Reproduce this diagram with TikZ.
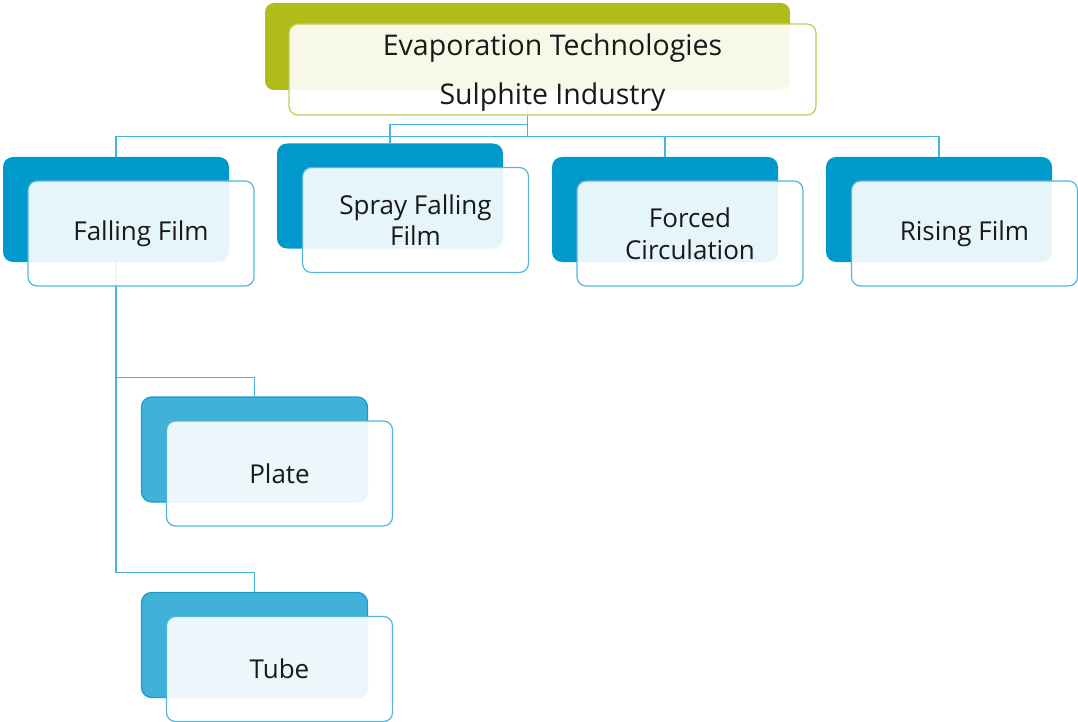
\documentclass[tikz,border=0pt]{standalone}
\usepackage{fontspec}
\setmainfont{Open Sans}
\usetikzlibrary{backgrounds}
\definecolor{olive}{RGB}{176,188,24}
\definecolor{olivebd}{RGB}{196,203,84}
\definecolor{mblue}{RGB}{0,153,204}
\definecolor{lblue}{RGB}{64,178,218}
\definecolor{lbluebd}{RGB}{24,156,204}
\definecolor{frontbd}{RGB}{84,182,220}
\definecolor{conn}{RGB}{70,180,222}
\tikzset{
  backbox/.style={rounded corners=10pt, minimum width=226pt, minimum height=105pt, inner sep=0pt, fill=mblue, draw=none},
  backboxb/.style={backbox, fill=lblue, draw=lbluebd, line width=1.2pt},
  frontbox/.style={rounded corners=9pt, minimum width=226pt, minimum height=105pt, inner sep=0pt, fill=white, fill opacity=0.9, text opacity=1, draw=frontbd, line width=1.2pt, align=center, font=\fontsize{26}{31.5}\selectfont, text=black!90},
  connline/.style={draw=conn, line width=1.2pt},
}
\begin{document}
\begin{tikzpicture}[x=1pt,y=-1pt]
\useasboundingbox (0,0) rectangle (1078,722);
% top
\node[rounded corners=9pt, minimum width=525pt, minimum height=87pt, inner sep=0pt, fill=olive] (tb) at (527.5,46.5) {};
\node[frontbox, draw=olivebd, minimum width=527pt, minimum height=91pt, font=\fontsize{28.5}{34}\selectfont] (tf) at (552.5,69.5) {\rule{0pt}{28pt}Evaporation Technologies\\[15pt]Sulphite Industry};
% level 1
\node[backbox] (ffb) at (116,209.5) {};
\node[frontbox] (fff) at (141,233.5) {Falling Film};
\node[backbox] (sfb) at (390,196) {};
\node[frontbox] (sff) at (415.5,220) {Spray Falling\\Film};
\node[backbox] (fcb) at (665,209.5) {};
\node[frontbox] (fcf) at (690,233.5) {Forced\\Circulation};
\node[backbox] (rfb) at (939,209.5) {};
\node[frontbox] (rff) at (964.5,233.5) {Rising Film};
% level 2
\node[backboxb] (plb) at (254.5,449.5) {};
\node[frontbox] (plf) at (279.5,473.5) {Plate};
\node[backboxb] (tub) at (254.5,645) {};
\node[frontbox] (tuf) at (279.5,669) {Tube};
\begin{pgfonlayer}{background}
\draw[connline] (tb.south) -- ++(0,46) -| (ffb.north);
\draw[connline] (tb.south) -- ++(0,34) -| (sfb.north);
\draw[connline] (tb.south) -- ++(0,46) -| (fcb.north);
\draw[connline] (tb.south) -- ++(0,46) -| (rfb.north);
\draw[connline] (ffb.south) -- ++(0,115) -| (plb.north);
\draw[connline] (ffb.south) -- ++(0,310) -| (tub.north);
\end{pgfonlayer}
\end{tikzpicture}
\end{document}
